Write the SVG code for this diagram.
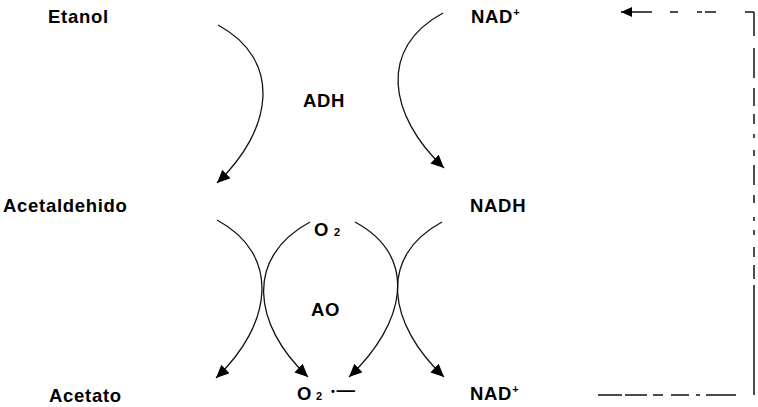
<svg xmlns="http://www.w3.org/2000/svg" width="758" height="407" viewBox="0 0 758 407">
  <style>
    .t { font-family: "Liberation Sans", Arial, sans-serif; font-weight: bold; font-size: 18.5px; fill: #000; letter-spacing: 0.7px; }
    .sub { font-size: 11px; }
    .arc { fill: none; stroke: #111; stroke-width: 1.3; }
    .dl { fill: none; stroke: #111; stroke-width: 1.5; }
  </style>
  <defs>
    <marker id="ah" markerUnits="userSpaceOnUse" markerWidth="16" markerHeight="14" refX="13" refY="6" orient="auto">
      <path d="M0,0 L13,6 L0,12 z" fill="#000"/>
    </marker>
    <marker id="ahl" markerUnits="userSpaceOnUse" markerWidth="14" markerHeight="12" refX="11" refY="5" orient="auto">
      <path d="M0,0 L11,5 L0,10 z" fill="#000"/>
    </marker>
  </defs>

  <g id="node-etanol"><text class="t" x="48" y="23">Etanol</text></g>
  <g id="node-nad-top"><text class="t" x="471" y="23">NAD<tspan class="sub" dy="-7">+</tspan></text></g>
  <g id="node-adh"><text class="t" x="303" y="107">ADH</text></g>
  <g id="node-acetaldehido"><text class="t" x="3" y="212">Acetaldehido</text></g>
  <g id="node-nadh"><text class="t" x="470" y="212">NADH</text></g>
  <g id="node-o2-top"><text class="t" x="314" y="236">O<tspan class="sub" dx="5">2</tspan></text></g>
  <g id="node-ao"><text class="t" x="311" y="316">AO</text></g>
  <g id="node-acetato"><text class="t" x="49" y="402">Acetato</text></g>
  <g id="node-superoxide"><text class="t" x="297" y="400">O<tspan class="sub" dx="4">2</tspan><tspan class="sub" dx="8" dy="-5">•</tspan><tspan dx="1" dy="1">—</tspan></text></g>
  <g id="node-nad-bottom"><text class="t" x="470" y="400">NAD<tspan class="sub" dy="-7">+</tspan></text></g>

  <g id="connectors">
    <path class="arc" d="M218,25 C283,60 273,130 217,183" marker-end="url(#ah)"/>
    <path class="arc" d="M443,13 C378,48 388,115 444,168" marker-end="url(#ah)"/>
    <path class="arc" d="M217,220 C282,255 272,325 216,378" marker-end="url(#ah)"/>
    <path class="arc" d="M310,222 C245,257 252,324 308,377" marker-end="url(#ah)"/>
    <path class="arc" d="M355,222 C420,257 405,324 349,377" marker-end="url(#ah)"/>
    <path class="arc" d="M442,222 C377,257 388,324 444,377" marker-end="url(#ah)"/>

    <path class="dl" d="M598,395 L754,395" stroke-dasharray="24 3 22 6 10 8 18 7 4 6 30"/>
    <path class="dl" d="M754,395 L754,12" stroke-dasharray="110 6 14 8 10 12 5 9 4 14 8 10 20 9 6 12 4 10 10 8 18 10 30 12"/>
    <path class="dl" d="M754,12 L745,12 M716,12 L705,12 M702,12 L697,12 M678,12 L670,12"/>
    <path class="dl" d="M652,12 L621,12" marker-end="url(#ahl)"/>
  </g>
</svg>
